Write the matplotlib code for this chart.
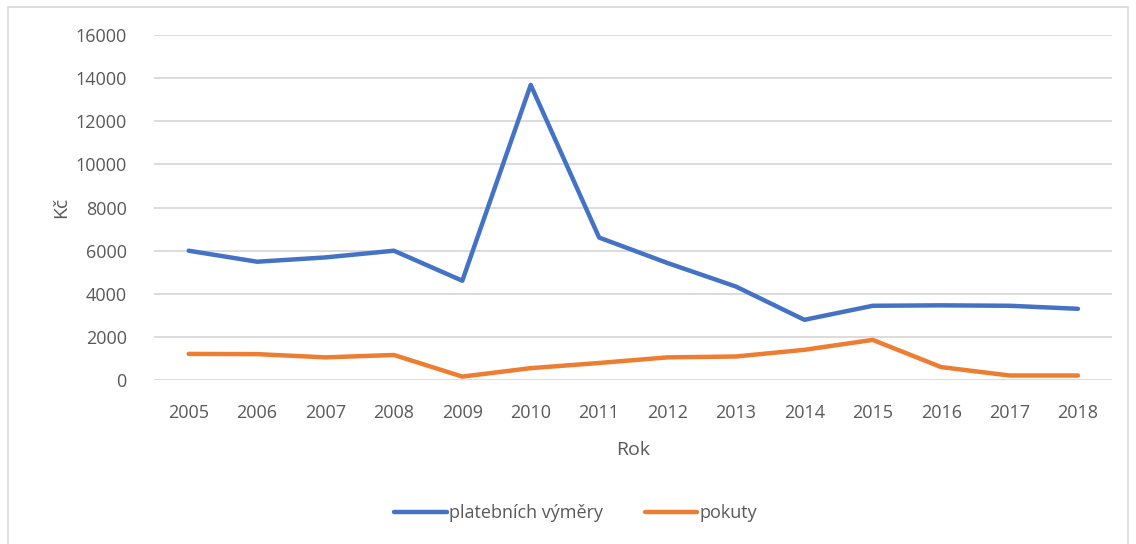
import numpy as np
import matplotlib.pyplot as plt
from matplotlib.patches import Rectangle

years = ["2005", "2006", "2007", "2008", "2009", "2010", "2011",
         "2012", "2013", "2014", "2015", "2016", "2017", "2018"]
vymery = [6000, 5490, 5690, 6000, 4610, 13680, 6610,
          5430, 4340, 2800, 3450, 3470, 3450, 3310]
pokuty = [1220, 1210, 1060, 1170, 170, 560, 800,
          1060, 1100, 1410, 1870, 610, 220, 220]
yticks = [0, 2000, 4000, 6000, 8000, 10000, 12000, 14000, 16000]

plt.rcParams["font.family"] = ["Open Sans", "DejaVu Sans"]
text_color = "#595959"

fig = plt.figure(figsize=(11.36, 5.44), dpi=100)
ax = fig.add_axes([0.136, 0.301, 0.843, 0.635])

x = np.arange(len(years))
ax.plot(x, vymery, color="#4472C4", lw=3.2, solid_capstyle="round",
        solid_joinstyle="round", label="platebních výměry", zorder=3)
ax.plot(x, pokuty, color="#ED7D31", lw=3.2, solid_capstyle="round",
        solid_joinstyle="round", label="pokuty", zorder=3)

ax.set_xlim(-0.5, len(years) - 0.5)
ax.set_ylim(0, 16000)
ax.set_yticks(yticks)
ax.set_yticklabels([str(v) for v in yticks])
ax.set_xticks(x)
ax.set_xticklabels(years)
ax.tick_params(length=0, labelsize=13, labelcolor=text_color)
ax.tick_params(axis="y", pad=20)
ax.tick_params(axis="x", pad=17)
ax.grid(axis="y", color="#D9D9D9", lw=1.3)
ax.set_axisbelow(True)
for s in ax.spines.values():
    s.set_visible(False)

ax.set_xlabel("Rok", fontsize=14, color=text_color, labelpad=14)
ax.set_ylabel("Kč", fontsize=14, color=text_color, labelpad=4)

fig.legend(loc="center", bbox_to_anchor=(0.507, 0.057), ncol=2, frameon=False,
           fontsize=13, labelcolor=text_color, handlelength=2.9,
           handletextpad=0.15, columnspacing=2.3)

fig.patches.append(Rectangle((8 / 1136, -0.1), 1120 / 1136, 1.087,
                             transform=fig.transFigure, fill=False,
                             edgecolor="#D9D9D9", lw=1.2))

fig.savefig("out.png", dpi=100)
